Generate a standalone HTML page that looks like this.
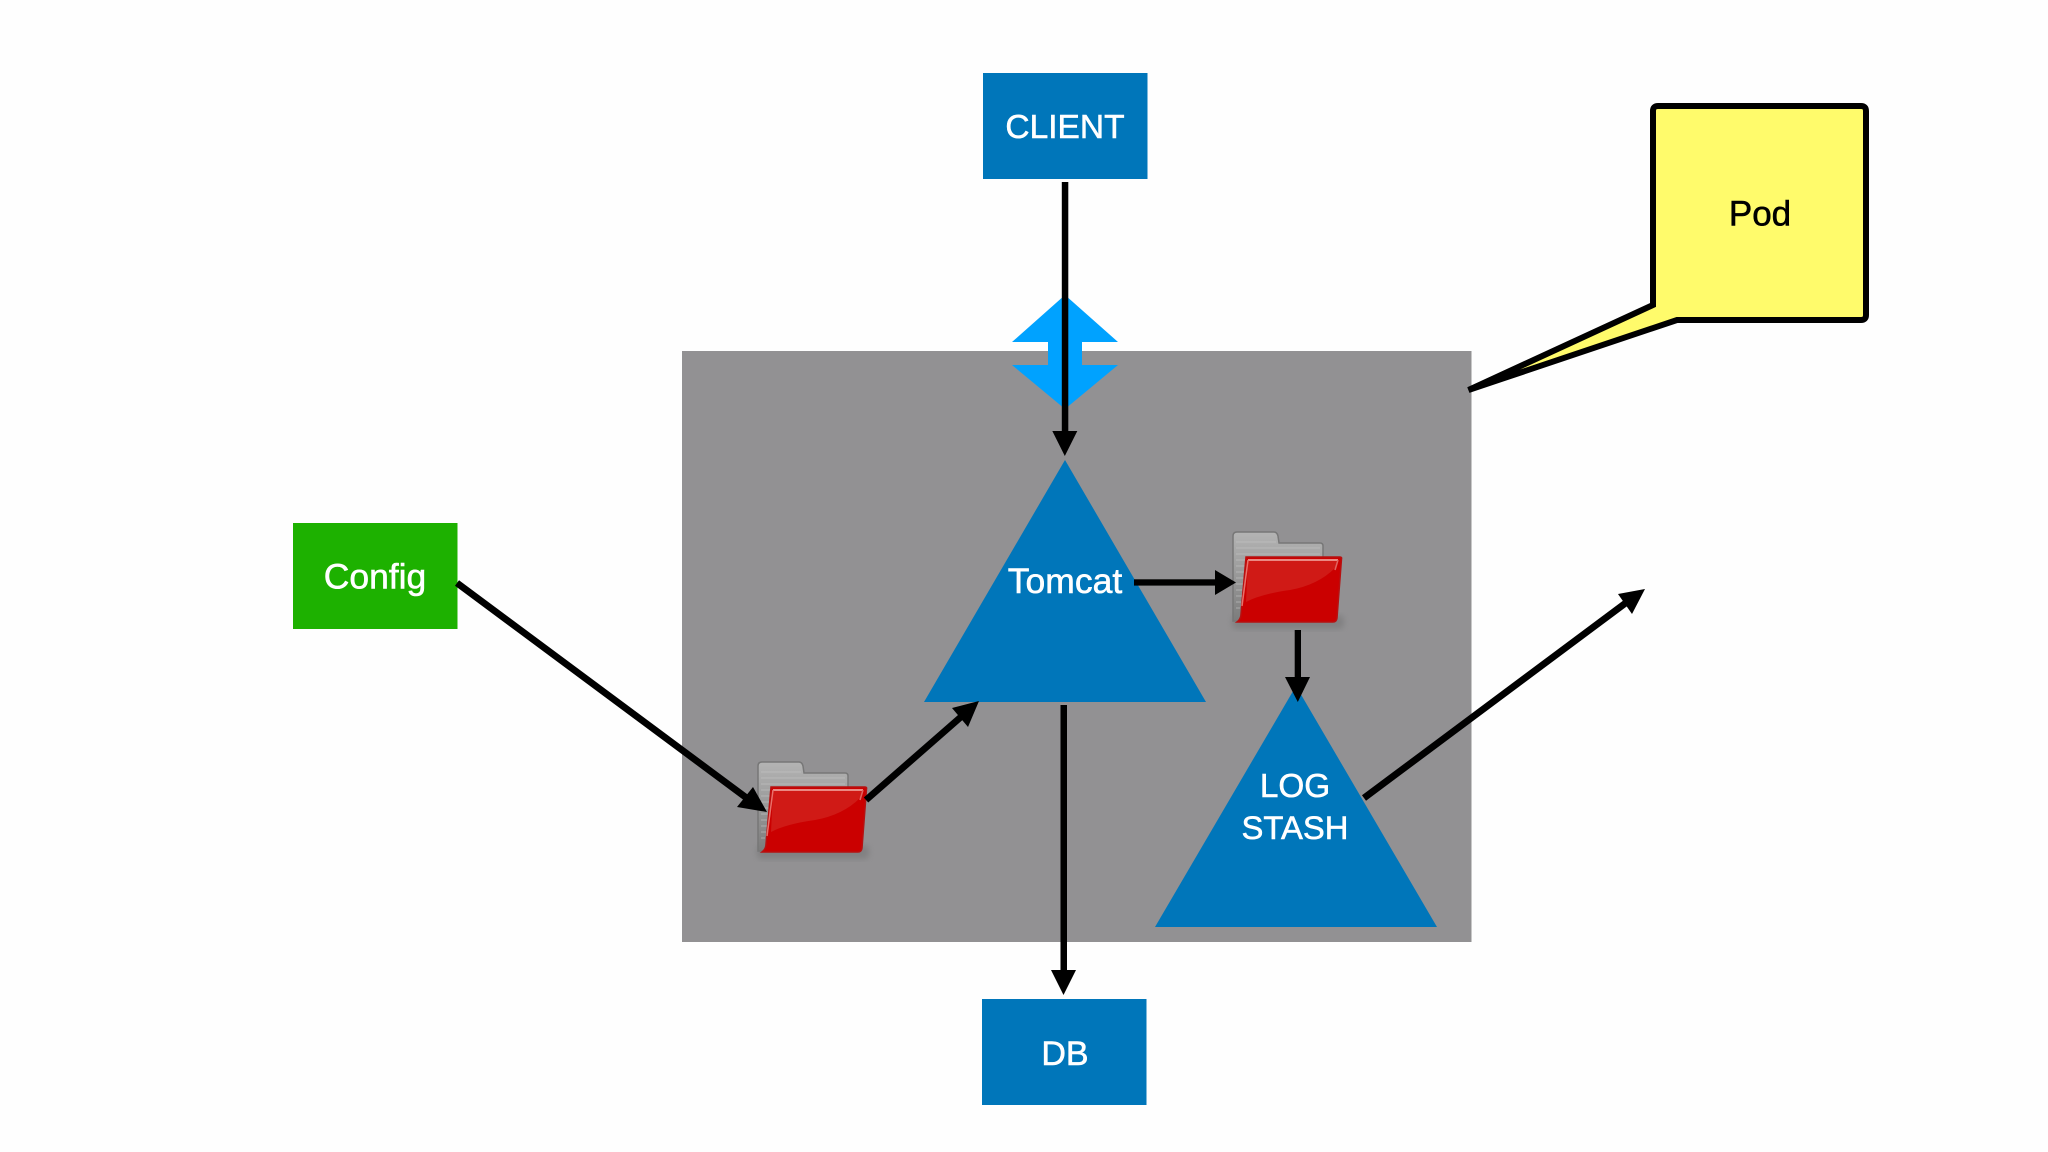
<!DOCTYPE html>
<html>
<head>
<meta charset="utf-8">
<style>
html,body{margin:0;padding:0;background:#fefefe;width:2048px;height:1152px;overflow:hidden}
svg{display:block}
text{font-family:"Liberation Sans",sans-serif;font-size:33.5px;text-anchor:middle;fill:#fff;stroke:#fff;stroke-width:.55px}
</style>
</head>
<body>
<svg width="2048" height="1152" viewBox="0 0 2048 1152" xmlns="http://www.w3.org/2000/svg">
<defs>
<linearGradient id="gr" x1="0" y1="0" x2="0" y2="1">
<stop offset="0" stop-color="#b4b4b4"/><stop offset="1" stop-color="#7c7c7c"/>
</linearGradient>
<filter id="sh" x="-20%" y="-20%" width="140%" height="140%"><feGaussianBlur stdDeviation="3"/></filter>
<g id="folder">
<rect x="757" y="845" width="112" height="14" rx="5" fill="#6d6d6d" opacity=".45" filter="url(#sh)"/>
<path d="M758 851V766q0-4 4-4h37q3 0 4 4l1 7h41q3 0 3 3v12l-78 63z" fill="url(#gr)" stroke="#777" stroke-width="1.500"/>
<path d="M761 772h40M761 778h84M761 784h84M761 790h10M761 796h9M761 802h8M761 808h8M761 814h7M761 820h6M761 826h6M761 832h5M761 838h4" stroke="#c4c4c4" stroke-width="1" opacity=".6"/>
<path d="M771 787H865q2 0 1.500 2L862 848q-.5 4-4 4H762q4-3 4-8z" fill="#cb0000" stroke="#b81010" stroke-width="1.500"/>
<path d="M773 790H863L860 798Q843 815 815 820Q786 824 771 832Z" fill="#d01a16"/>
<path d="M773 790H863" stroke="#ea8a84" stroke-width="2" fill="none"/>
<path d="M773 790L767 836" stroke="#e8706a" stroke-width="1.500" fill="none"/>
<path d="M863 790L860 800" stroke="#e06460" stroke-width="1.500" fill="none"/>
</g>
</defs>

<rect x="682" y="351" width="789.500" height="591" fill="#929193"/>

<!-- double arrow -->
<path d="M1065 295L1118 342H1082V365H1118L1065 409L1012 365H1048V342H1012Z" fill="#00a2ff"/>

<!-- triangles -->
<path d="M1065 460L1206 702H924Z" fill="#0076ba"/>
<path d="M1296 686L1437 927H1155Z" fill="#0076ba"/>

<!-- boxes -->
<rect x="983" y="73" width="164.500" height="106" fill="#0076ba"/>
<rect x="982" y="999" width="164.500" height="106" fill="#0076ba"/>
<rect x="293" y="523" width="164.500" height="106" fill="#1db100"/>

<!-- callout -->
<path d="M1653 305V111q0-5 5-5H1861q5 0 5 5V315q0 5-5 5H1677L1468.500 390Z" fill="#fffb6b" stroke="#000" stroke-width="6" stroke-linejoin="miter" stroke-miterlimit="10"/>

<!-- folders -->
<use href="#folder"/>
<use href="#folder" transform="translate(475,-230)"/>

<!-- arrows -->
<g fill="#000" stroke="none">
<rect x="1061.800" y="182" width="6.500" height="250"/>
<path d="M1052.300 431H1077.300L1064.800 456Z"/>
<rect x="1060.500" y="705" width="6.500" height="266"/>
<path d="M1051 970H1076L1063.500 995Z"/>
<rect x="1294.700" y="630" width="6.300" height="48"/>
<path d="M1285 677H1310L1297.800 702Z"/>
<rect x="1134" y="579.300" width="82" height="6.300"/>
<path d="M1215 570V595L1236 582.500Z"/>
</g>
<g stroke="#000" stroke-width="6.800" fill="none">
<line x1="457" y1="583" x2="748" y2="799"/>
<line x1="866" y1="800" x2="962" y2="716"/>
<line x1="1364" y1="798" x2="1627" y2="602"/>
</g>
<g fill="#000">
<path d="M767 812L737 807L753 787Z"/>
<path d="M979 701L952 708L968 727Z"/>
<path d="M1645 589L1618 594L1632 614Z"/>
</g>

<!-- labels -->
<text x="1065" y="138" style="font-size:33.500px">CLIENT</text>
<text x="375" y="588.500" style="font-size:35.500px">Config</text>
<text x="1065" y="593" style="font-size:35.500px">Tomcat</text>
<text x="1295" y="797" style="font-size:33.300px">LOG</text>
<text x="1295" y="839" style="font-size:32.800px">STASH</text>
<text x="1065" y="1065" style="font-size:34px">DB</text>
<text x="1760" y="225.500" style="font-size:35px;fill:#000;stroke:#000">Pod</text>
</svg>
</body>
</html>
